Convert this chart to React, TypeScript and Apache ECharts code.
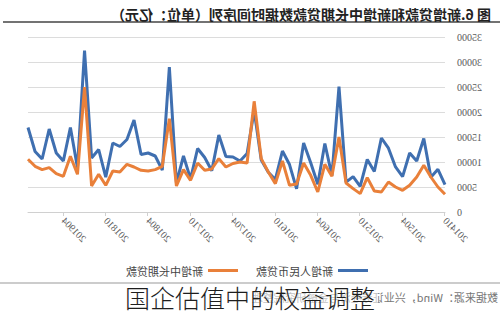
import React, { useEffect, useRef } from "react";
import * as echarts from "echarts";

const categories = [
  "201410", "201411", "201412",
  "201501", "201502", "201503", "201504", "201505", "201506", "201507", "201508", "201509", "201510", "201511", "201512",
  "201601", "201602", "201603", "201604", "201605", "201606", "201607", "201608", "201609", "201610", "201611", "201612",
  "201701", "201702", "201703", "201704", "201705", "201706", "201707", "201708", "201709", "201710", "201711", "201712",
  "201801", "201802", "201803", "201804", "201805", "201806", "201807", "201808", "201809", "201810", "201811", "201812",
  "201901", "201902", "201903", "201904", "201905", "201906", "201907", "201908", "201909",
];

const newLoans = [
  5483, 8527, 6973,
  14708, 10200, 11800, 7079, 9008, 12763, 14800, 8096, 10500, 5136, 7089, 5978,
  25100, 7266, 13700, 5556, 9855, 13800, 4636, 9487, 12200, 6513, 7946, 10400,
  20300, 11700, 10200, 11000, 11100, 15400, 8255, 10900, 12700, 6632, 11200, 5844,
  29000, 8393, 11200, 11800, 11500, 18400, 14500, 13100, 13800, 6970, 12500, 10800,
  32300, 8858, 16900, 10200, 11800, 16600, 10600, 12100, 16900,
];

const newLongTermLoans = [
  3540, 5000, 7000,
  9340, 7000, 5340, 4340, 5000, 6000, 4000, 4200, 6870, 3670, 4670, 5800,
  15000, 7140, 9540, 4000, 7340, 9800, 5600, 5340, 10200, 5670, 8000, 10670,
  22140, 9800, 10000, 9700, 9000, 10670, 8600, 8340, 9800, 6340, 8470, 5200,
  18670, 9140, 8470, 8200, 8340, 9000, 9540, 8000, 8200, 5340, 7540, 5200,
  25000, 7540, 11140, 7140, 7670, 8870, 8470, 9140, 10540,
];

const seriesNames = ["新增人民币贷款", "新增中长期贷款"];
const titleText = "图 6.新增贷款和新增中长期贷款数据时间序列（单位：亿元）";
const sourceText = "数据来源：Wind，兴业证券经济与金融研究院整理";
const captionText = "国企估值中的权益调整";

export default function App() {
  const ref = useRef<HTMLDivElement>(null);

  useEffect(() => {
    if (!ref.current) return;
    const chart = echarts.init(ref.current, undefined, { renderer: "svg" });
    const serif = "'Liberation Serif', 'DejaVu Serif', serif";
    const cjk = "'Noto Sans CJK SC', sans-serif";
    chart.setOption({
      animation: false,
      backgroundColor: "#ffffff",
      title: {
        text: titleText,
        left: 4,
        top: 2,
        textStyle: { fontSize: 14, fontWeight: "bold", color: "#222", fontFamily: cjk },
      },
      legend: {
        data: seriesNames.map((name) => ({ name, icon: "rect" })),
        left: 127,
        top: 260,
        itemWidth: 30,
        itemHeight: 3,
        itemGap: 18,
        textStyle: { fontSize: 11, color: "#444", fontFamily: cjk },
      },
      grid: { left: 55, right: 28, top: 37, bottom: 103 },
      xAxis: {
        type: "category",
        data: categories,
        boundaryGap: false,
        axisLine: { lineStyle: { color: "#d0d0d0" } },
        axisTick: { show: true, interval: 5, length: 4, lineStyle: { color: "#d0d0d0" } },
        axisLabel: {
          interval: 5,
          rotate: 45,
          fontSize: 10,
          color: "#595959",
          fontFamily: serif,
          margin: 7,
        },
      },
      yAxis: {
        type: "value",
        min: 0,
        max: 35000,
        interval: 5000,
        axisLine: { show: false },
        axisTick: { show: false },
        axisLabel: {
          fontSize: 10,
          color: "#595959",
          fontFamily: serif,
          margin: 12,
          formatter: (v: number) => String(v),
        },
        splitLine: { lineStyle: { color: "#dcdcdc" } },
      },
      series: [
        {
          name: seriesNames[0],
          type: "line",
          data: newLoans,
          symbol: "none",
          lineStyle: { color: "#3f6fb0", width: 3 },
          itemStyle: { color: "#3f6fb0" },
        },
        {
          name: seriesNames[1],
          type: "line",
          data: newLongTermLoans,
          symbol: "none",
          lineStyle: { color: "#e9803a", width: 3 },
          itemStyle: { color: "#e9803a" },
        },
      ],
      graphic: [
        { type: "line", shape: { x1: 0, y1: 22, x2: 497, y2: 22 }, style: { stroke: "#444", lineWidth: 1.5 } },
        { type: "line", shape: { x1: 0, y1: 283, x2: 500, y2: 283 }, style: { stroke: "#999", lineWidth: 1 } },
        {
          type: "text",
          x: 2,
          y: 297,
          style: { text: sourceText, fontSize: 11, fill: "#777", fontFamily: cjk, textVerticalAlign: "middle" },
        },
        {
          type: "rect",
          shape: { x: 122, y: 284, width: 256, height: 28 },
          style: { fill: "rgba(255,255,255,0.55)" },
          z: 90,
        },
        {
          type: "text",
          x: 250,
          y: 297,
          scaleX: -1,
          z: 100,
          style: {
            text: captionText,
            x: 0,
            y: 0,
            fontSize: 25,
            fill: "#1e1e1e",
            fontFamily: cjk,
            fontWeight: 300,
            textAlign: "center",
            textVerticalAlign: "middle",
          },
        },
      ],
    });
    return () => chart.dispose();
  }, []);

  return (
    <div style={{ position: "absolute", left: 0, top: 0, width: 500, height: 315, background: "#fff" }}>
      <div ref={ref} style={{ width: 500, height: 315, transform: "scaleX(-1)" }} />
    </div>
  );
}
